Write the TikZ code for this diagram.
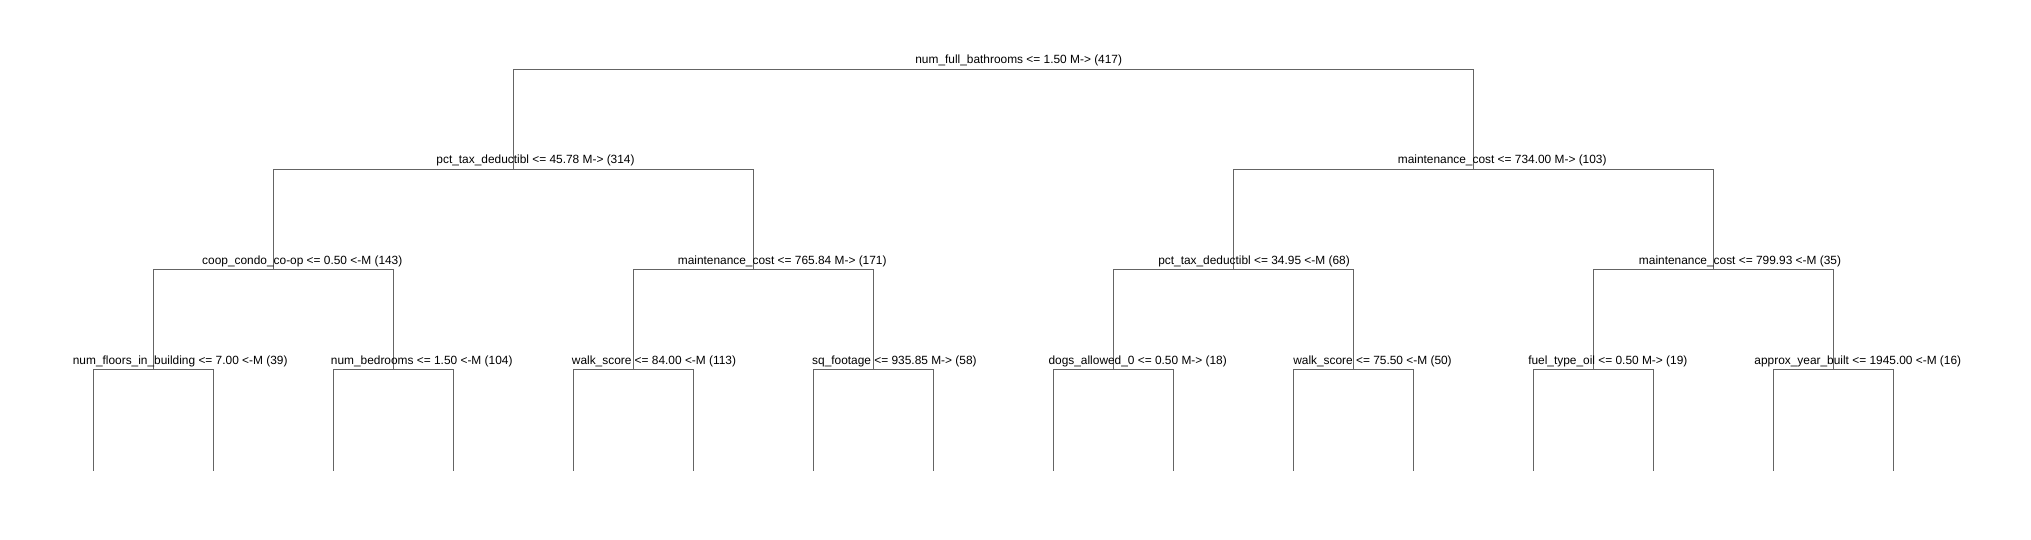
\documentclass[tikz,border=0pt]{standalone}
\usepackage{fontspec}
\setmainfont{Liberation Sans}
\definecolor{edgegray}{RGB}{100,100,100}
\begin{document}
\begin{tikzpicture}[x=1pt,y=-1pt,
  edgeline/.style={draw=edgegray,line width=1pt},
  lbl/.style={font=\fontsize{11.9}{14}\selectfont, anchor=base, inner sep=0pt, text=black}]
\useasboundingbox (0,0) rectangle (2031,540);
\fill[white] (0,0) rectangle (2031,540);
% split points
\coordinate (root) at (993.5,69.5);
\coordinate (a) at (513.5,169.5);
\coordinate (b) at (1473.5,169.5);
\coordinate (aa) at (273.5,269.5);
\coordinate (ab) at (753.5,269.5);
\coordinate (ba) at (1233.5,269.5);
\coordinate (bb) at (1713.5,269.5);
\coordinate (aaa) at (153.5,369.5);
\coordinate (aab) at (393.5,369.5);
\coordinate (aba) at (633.5,369.5);
\coordinate (abb) at (873.5,369.5);
\coordinate (baa) at (1113.5,369.5);
\coordinate (bab) at (1353.5,369.5);
\coordinate (bba) at (1593.5,369.5);
\coordinate (bbb) at (1833.5,369.5);
% leaves
\foreach \n/\x in {aaa/153.5,aab/393.5,aba/633.5,abb/873.5,baa/1113.5,bab/1353.5,bba/1593.5,bbb/1833.5}{
  \coordinate (\n L) at (\x-60,470.5);
  \coordinate (\n R) at (\x+60,470.5);
}
% connectors
\draw[edgeline] (a) |- (root) -| (b);
\draw[edgeline] (aa) |- (a) -| (ab);
\draw[edgeline] (ba) |- (b) -| (bb);
\draw[edgeline] (aaa) |- (aa) -| (aab);
\draw[edgeline] (aba) |- (ab) -| (abb);
\draw[edgeline] (baa) |- (ba) -| (bab);
\draw[edgeline] (bba) |- (bb) -| (bbb);
\foreach \n in {aaa,aab,aba,abb,baa,bab,bba,bbb}{
  \draw[edgeline] (\n L) |- (\n) -| (\n R);
}
% labels
\node[lbl] (lroot) at (1018.7,64) {num\_full\_bathrooms <= 1.50 M-> (417)};
\node[lbl] (la) at (535.5,164) {pct\_tax\_deductibl <= 45.78 M-> (314)};
\node[lbl] (lb) at (1502.2,164) {maintenance\_cost <= 734.00 M-> (103)};
\node[lbl] (laa) at (302.3,264) {coop\_condo\_co-op <= 0.50 <-M (143)};
\node[lbl] (lab) at (782.2,264) {maintenance\_cost <= 765.84 M-> (171)};
\node[lbl] (lba) at (1254,264) {pct\_tax\_deductibl <= 34.95 <-M (68)};
\node[lbl] (lbb) at (1740,264) {maintenance\_cost <= 799.93 <-M (35)};
\node[lbl] (laaa) at (180.2,364) {num\_floors\_in\_building <= 7.00 <-M (39)};
\node[lbl] (laab) at (421.7,364) {num\_bedrooms <= 1.50 <-M (104)};
\node[lbl] (laba) at (654,364) {walk\_score <= 84.00 <-M (113)};
\node[lbl] (labb) at (894.4,364) {sq\_footage <= 935.85 M-> (58)};
\node[lbl] (lbaa) at (1137.7,364) {dogs\_allowed\_0 <= 0.50 M-> (18)};
\node[lbl] (lbab) at (1372.5,364) {walk\_score <= 75.50 <-M (50)};
\node[lbl] (lbba) at (1607.8,364) {fuel\_type\_oil <= 0.50 M-> (19)};
\node[lbl] (lbbb) at (1857.8,364) {approx\_year\_built <= 1945.00 <-M (16)};
\end{tikzpicture}
\end{document}
